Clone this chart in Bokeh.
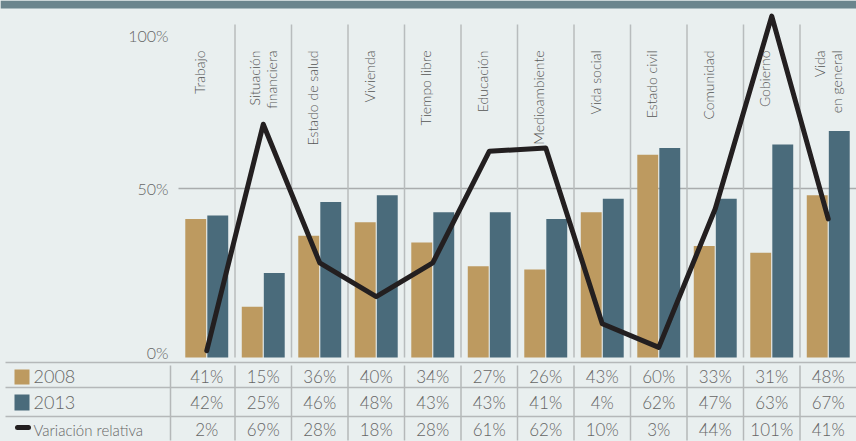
import math
from bokeh.plotting import figure
from bokeh.models import Range1d, ColumnDataSource, GlobalInlineStyleSheet
from bokeh.core.properties import value
from bokeh.embed import file_html
from bokeh.resources import INLINE

# ---------------- data ----------------
categories = ["Trabajo", "Situación\nfinanciera", "Estado de salud", "Vivienda",
              "Tiempo libre", "Educación", "Medioambiente", "Vida social",
              "Estado civil", "Comunidad", "Gobierno", "Vida\nen general"]
values_2008 = [41, 15, 36, 40, 34, 27, 26, 43, 60, 33, 31, 48]
values_2013 = [42, 25, 46, 48, 43, 43, 41, 47, 62, 47, 63, 67]
variacion = [2, 69, 28, 18, 28, 61, 62, 10, 3, 44, 101, 41]
table_2008 = [41, 15, 36, 40, 34, 27, 26, 43, 60, 33, 31, 48]
table_2013 = [42, 25, 46, 48, 43, 43, 41, 4, 62, 47, 63, 67]
table_var = [2, 69, 28, 18, 28, 61, 62, 10, 3, 44, 101, 41]
y_ticks = [0, 50, 100]
row_names = ["2008", "2013", "Variación relativa"]

# ---------------- layout constants (pixels) ----------------
W, H = 856, 441
X0PX = 178.0      # left edge of first category
CW = 56.5         # category width in px
Y0PX = 357.0      # 0% baseline
UPP = 3.38        # px per percent

BG = "#E9EFEF"
BAND = "#6B858D"
TAN = "#BD9A60"
SLATE = "#4A6B7B"
TXT = "#666666"
SEP = "#B8BCBD"
FONT = value("'Lato Light', Lato")

def py(px):
    return (Y0PX - px) / UPP

def pxx(px):
    return (px - X0PX) / CW

n = len(categories)
centers = [i + 0.5 for i in range(n)]

p = figure(width=W, height=H, output_backend="svg", toolbar_location=None,
           x_range=Range1d(pxx(0), pxx(W)), y_range=Range1d(py(H), py(0)),
           min_border=0, min_border_left=0, min_border_right=0,
           min_border_top=0, min_border_bottom=0)
p.axis.visible = False
p.grid.visible = False
p.outline_line_color = None
p.background_fill_color = BG
p.border_fill_color = BG
p.stylesheets = [GlobalInlineStyleSheet(css="html,body{margin:0;padding:0;overflow:hidden;background:#E9EFEF;}")]

# top band
p.quad(left=pxx(0), right=pxx(W), top=py(0), bottom=py(8), fill_color=BAND, line_color=None)

# 50% gridline
p.segment(x0=[0], x1=[n], y0=[50], y1=[50], line_color="#A9ACAD", line_width=1.5)

# vertical separators in chart
bnd = list(range(1, n))
p.segment(x0=bnd, x1=bnd, y0=[0] * len(bnd), y1=[py(24)] * len(bnd), line_color=SEP, line_width=1.5)

# bars
bw = 0.37
off = 0.195
p.vbar(x=[c - off for c in centers], top=values_2008, bottom=0, width=bw, fill_color=TAN, line_color=None)
p.vbar(x=[c + off for c in centers], top=values_2013, bottom=0, width=bw, fill_color=SLATE, line_color=None)

# line
p.line(x=centers, y=variacion, line_color="#231F20", line_width=5, line_join="round", line_cap="round")

# y labels
ylab_off = [-5, 0, 16]
p.text(x=[pxx(168)] * 3, y=y_ticks, text=[f"{t}%" for t in y_ticks], y_offset=ylab_off,
       text_align="right", text_baseline="middle", text_font=FONT, text_font_size="16px",
       text_color=TXT)

# category labels
cat_src = ColumnDataSource(dict(
    x=centers, y=[py(50)] * n, text=categories,
    xo=[0 if "\n" in c else -7 for c in categories]))
p.text(x="x", y="y", text="text", x_offset="xo", source=cat_src, angle=math.pi / 2,
       text_align="right", text_baseline="middle", text_font=FONT, text_font_size="14px",
       text_color="#555555", text_line_height=1.0)

# table lines
p.segment(x0=[pxx(5)] * 3, x1=[pxx(W)] * 3, y0=[py(362), py(387), py(416)],
          y1=[py(362), py(387), py(416)], line_color="#B5B8B9", line_width=1.5)
tb = [pxx(170)] + bnd
p.segment(x0=tb, x1=tb, y0=[py(365)] * len(tb), y1=[py(440)] * len(tb), line_color="#B5B8B9", line_width=1.5)

# table text
row_y = [py(376), py(402), py(429)]
for vals, yy in zip([table_2008, table_2013, table_var], row_y):
    p.text(x=centers, y=[yy] * n, text=[f"{v}%" for v in vals], text_align="center",
           text_baseline="middle", text_font=FONT, text_font_size="17px", text_color=TXT)

# row headers
p.quad(left=[pxx(14), pxx(14)], right=[pxx(29), pxx(29)], top=[py(369), py(394)],
       bottom=[py(384), py(410)], fill_color=[TAN, SLATE], line_color=None)
p.segment(x0=[pxx(17)], x1=[pxx(28)], y0=[py(427)], y1=[py(427)], line_color="#231F20",
          line_width=5, line_cap="round")
p.text(x=[pxx(33)] * 3, y=row_y, text=row_names, text_align="left", text_baseline="middle",
       text_font=FONT, text_font_size=["18px", "18px", "15px"], text_color=TXT)

open("out.html", "w").write(file_html(p, INLINE))
